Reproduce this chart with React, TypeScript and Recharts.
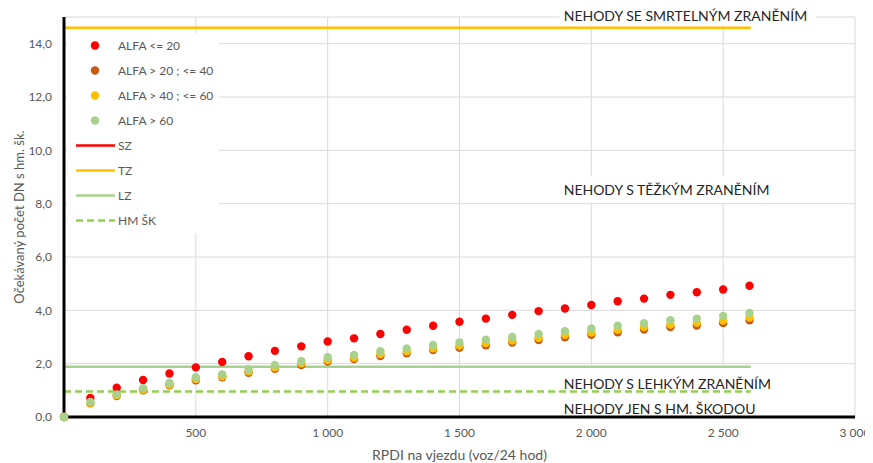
import React from "react";
import {
  CartesianGrid,
  Legend,
  ReferenceArea,
  ReferenceLine,
  Scatter,
  ScatterChart,
  XAxis,
  YAxis,
} from "recharts";

// RPDI na vjezdu (voz/24 hod)
const rpdi = [
  0, 100, 200, 300, 400, 500, 600, 700, 800, 900, 1000, 1100, 1200, 1300,
  1400, 1500, 1600, 1700, 1800, 1900, 2000, 2100, 2200, 2300, 2400, 2500, 2600,
];

// expected accidents per ALFA group
const alfa20 = [
  0, 0.71, 1.1, 1.39, 1.63, 1.86, 2.06, 2.28, 2.48, 2.65, 2.83, 2.95, 3.11,
  3.27, 3.42, 3.57, 3.69, 3.83, 3.97, 4.07, 4.2, 4.34, 4.44, 4.58, 4.68, 4.78,
  4.92,
];
const alfa40 = [
  0, 0.51, 0.79, 1.0, 1.19, 1.38, 1.49, 1.66, 1.81, 1.95, 2.08, 2.17, 2.29,
  2.39, 2.51, 2.6, 2.69, 2.79, 2.89, 2.99, 3.08, 3.18, 3.28, 3.37, 3.43, 3.52,
  3.63,
];
const alfa60 = [
  0, 0.53, 0.81, 1.03, 1.22, 1.42, 1.53, 1.71, 1.86, 2.01, 2.14, 2.23, 2.36,
  2.46, 2.58, 2.68, 2.77, 2.87, 2.97, 3.08, 3.17, 3.27, 3.37, 3.47, 3.53, 3.62,
  3.73,
];
const alfaOver60 = [
  0, 0.56, 0.85, 1.08, 1.28, 1.49, 1.6, 1.79, 1.95, 2.1, 2.24, 2.33, 2.47,
  2.57, 2.7, 2.8, 2.9, 3.0, 3.11, 3.22, 3.32, 3.42, 3.52, 3.63, 3.69, 3.79,
  3.9,
];

// threshold levels (TZ, LZ, HM ŠK) drawn up to lineEnd
const thresholdTZ = 14.6;
const thresholdLZ = 1.88;
const thresholdHM = 0.96;
const lineEnd = 2605;

const xTicks = [0, 500, 1000, 1500, 2000, 2500, 3000];
const yTicks = [0, 2, 4, 6, 8, 10, 12, 14];

const FONT = "Lato, 'Open Sans', sans-serif";
const GREY = "#595959";

const toPoints = (ys: number[]) => ys.map((y, i) => ({ x: rpdi[i], y }));

const series = [
  { name: "ALFA <= 20", color: "#FF0000", values: alfa20 },
  { name: "ALFA > 20 ; <= 40", color: "#C55A11", values: alfa40 },
  { name: "ALFA > 40 ; <= 60", color: "#FFC000", values: alfa60 },
  { name: "ALFA > 60", color: "#A9D18E", values: alfaOver60 },
];

const lineKeys = [
  { name: "SZ", color: "#FF0000", dashed: false },
  { name: "TZ", color: "#FFC000", dashed: false },
  { name: "LZ", color: "#A9D18E", dashed: false },
  { name: "HM ŠK", color: "#92D050", dashed: true },
];

const fmtX = (v: number) => {
  if (v === 0) return "";
  if (v < 1000) return String(v);
  return `${Math.floor(v / 1000)} ${String(v % 1000).padStart(3, "0")}`;
};
const fmtY = (v: number) => v.toFixed(1).replace(".", ",");

const Dot = (color: string) => (props: any) =>
  <circle cx={props.cx} cy={props.cy} r={4.2} fill={color} />;

const LegendBox = () => (
  <div style={{ fontFamily: FONT, fontSize: 12, color: GREY }}>
    {series.map((s) => (
      <div key={s.name} style={{ height: 25, display: "flex", alignItems: "center" }}>
        <svg width={51} height={25}>
          <circle cx={28} cy={12.5} r={4.2} fill={s.color} />
        </svg>
        <span>{s.name}</span>
      </div>
    ))}
    {lineKeys.map((l) => (
      <div key={l.name} style={{ height: 25, display: "flex", alignItems: "center" }}>
        <svg width={51} height={25}>
          <line
            x1={9}
            x2={48}
            y1={12.5}
            y2={12.5}
            stroke={l.color}
            strokeWidth={2.5}
            strokeDasharray={l.dashed ? "7 4" : undefined}
          />
        </svg>
        <span>{l.name}</span>
      </div>
    ))}
  </div>
);

const boxLabel = (text: string) => ({
  value: text,
  position: "insideLeft" as const,
  offset: 4,
  fill: "#262626",
  fontSize: 14,
  fontFamily: FONT,
});

const YTitle = (props: any) => {
  const vb = props.viewBox;
  const x = vb.x + 11;
  const y = vb.y + vb.height / 2;
  return (
    <text
      x={x}
      y={y}
      transform={`rotate(-90 ${x} ${y})`}
      textAnchor="middle"
      dominantBaseline="central"
      fill={GREY}
      fontSize={13}
      fontFamily={FONT}
    >
      Očekávaný počet DN s hm. šk.
    </text>
  );
};

export default function App() {
  return (
    <ScatterChart
      width={865}
      height={455}
      margin={{ top: 9, right: 18, left: 0, bottom: 0 }}
    >
      <CartesianGrid stroke="#d9d9d9" strokeWidth={1} />
      <XAxis
        type="number"
        dataKey="x"
        domain={[0, 3000]}
        ticks={xTicks}
        tickFormatter={fmtX}
        height={46}
        axisLine={{ stroke: "#000", strokeWidth: 3 }}
        tickLine={false}
        tickMargin={5}
        tick={{ fill: GREY, fontSize: 12, fontFamily: FONT }}
        label={{
          value: "RPDI na vjezdu (voz/24 hod)",
          position: "insideBottom",
          offset: 3,
          fill: GREY,
          fontSize: 14,
          fontFamily: FONT,
        }}
      />
      <YAxis
        type="number"
        dataKey="y"
        domain={[0, 15]}
        ticks={yTicks}
        tickFormatter={fmtY}
        width={56}
        axisLine={{ stroke: "#000", strokeWidth: 3 }}
        tickLine={false}
        tickMargin={6}
        tick={{ fill: GREY, fontSize: 12, fontFamily: FONT }}
        label={<YTitle />}
      />
      <ReferenceArea
        x1={1880}
        x2={2850}
        y1={14.68}
        y2={15.36}
        ifOverflow="visible"
        fill="#fff"
        fillOpacity={1}
        stroke="none"
        label={boxLabel("NEHODY SE SMRTELNÝM ZRANĚNÍM")}
      />
      <ReferenceArea
        x1={1880}
        x2={2850}
        y1={8.03}
        y2={9.02}
        fill="#fff"
        fillOpacity={1}
        stroke="none"
        label={boxLabel("NEHODY S TĚŽKÝM ZRANĚNÍM")}
      />
      <ReferenceArea
        x1={1880}
        x2={2850}
        y1={0.52}
        y2={1.95}
        fill="#fff"
        fillOpacity={1}
        stroke="none"
        label={boxLabel("NEHODY S LEHKÝM ZRANĚNÍM")}
      />
      <ReferenceArea
        x1={1880}
        x2={2850}
        y1={0.06}
        y2={0.52}
        fill="#fff"
        fillOpacity={1}
        stroke="none"
        label={boxLabel("NEHODY JEN S HM. ŠKODOU")}
      />
      <ReferenceLine
        segment={[
          { x: 0, y: thresholdTZ },
          { x: lineEnd, y: thresholdTZ },
        ]}
        stroke="#FFC000"
        strokeWidth={2.5}
      />
      <ReferenceLine
        segment={[
          { x: 0, y: thresholdLZ },
          { x: lineEnd, y: thresholdLZ },
        ]}
        stroke="#A9D18E"
        strokeWidth={2.5}
      />
      <ReferenceLine
        segment={[
          { x: 0, y: thresholdHM },
          { x: lineEnd, y: thresholdHM },
        ]}
        stroke="#92D050"
        strokeWidth={2.5}
        strokeDasharray="7 4"
      />
      {series.map((s) => (
        <Scatter
          key={s.name}
          name={s.name}
          data={toPoints(s.values)}
          fill={s.color}
          shape={Dot(s.color)}
          isAnimationActive={false}
        />
      ))}
      <Legend
        layout="vertical"
        align="center"
        verticalAlign="middle"
        content={<LegendBox />}
        wrapperStyle={{
          left: 59,
          top: 25,
          width: 152,
          height: 200,
          background: "#fff",
        }}
      />
    </ScatterChart>
  );
}
